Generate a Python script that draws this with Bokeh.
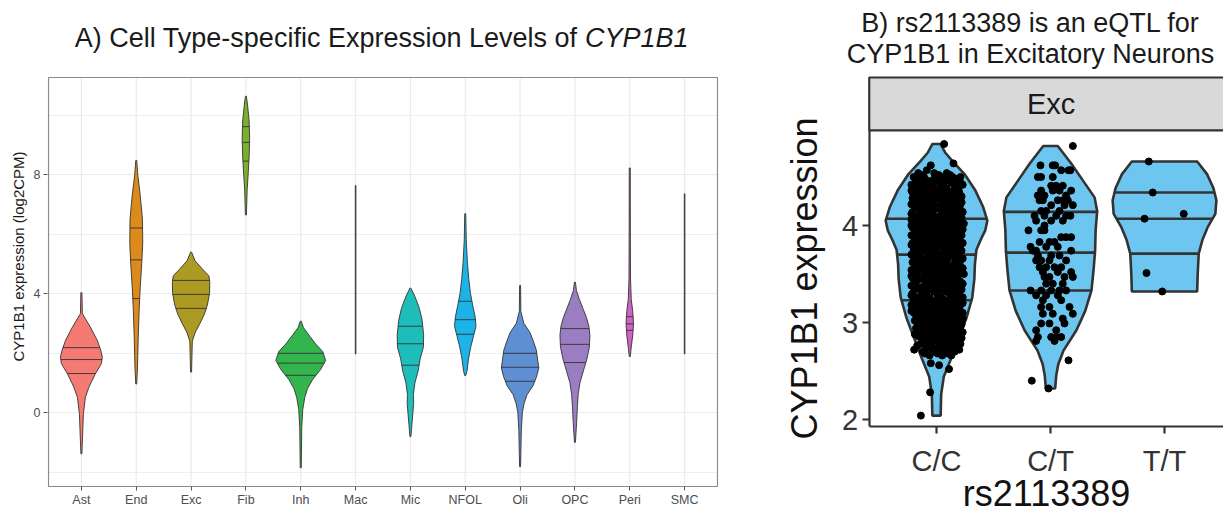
import numpy as np
from bokeh.plotting import figure
from bokeh.models import Range1d, FixedTicker
from bokeh.layouts import row
from bokeh.core.properties import value
from bokeh.embed import file_html
from bokeh.resources import INLINE

FONT = "Liberation Sans"

# ---------------- Panel A: expression by cell type ----------------
cell_types = ["Ast", "End", "Exc", "Fib", "Inh", "Mac", "Mic", "NFOL", "Oli", "OPC", "Peri", "SMC"]
cell_colors = ["#F47A72", "#DC8A1C", "#AD9A22", "#7BAF2C", "#33B44C", "#1FBE98",
               "#1FBDBA", "#1CB4E8", "#5E8FD2", "#9B7DC2", "#D062C4", "#F064A8"]

# density outline per cell type: (log2CPM, relative half-width), top to bottom
AST = [(4.03, 0.02), (3.32, 0.04), (2.87, 0.36), (2.42, 0.64), (2.08, 0.78), (1.86, 0.84),
       (1.64, 0.80), (1.30, 0.56), (0.85, 0.30), (0.51, 0.16), (-0.04, 0.08), (-1.39, 0.02)]
END = [(8.47, 0.02), (8.0, 0.06), (7.3, 0.16), (6.5, 0.25), (5.7, 0.26), (5.0, 0.22),
       (4.2, 0.16), (3.5, 0.12), (2.5, 0.08), (1.5, 0.05), (0.96, 0.02)]
EXC = [(5.39, 0.02), (5.1, 0.16), (4.8, 0.48), (4.6, 0.71), (4.4, 0.75), (4.0, 0.74),
       (3.6, 0.65), (3.3, 0.53), (3.0, 0.36), (2.7, 0.17), (2.4, 0.05), (1.36, 0.02)]
FIB = [(10.63, 0.02), (10.3, 0.07), (9.8, 0.13), (9.2, 0.15), (8.6, 0.13), (8.0, 0.09),
       (7.5, 0.05), (6.64, 0.02)]
INH = [(3.07, 0.02), (2.85, 0.11), (2.6, 0.33), (2.3, 0.60), (2.05, 0.88), (1.75, 1.00),
       (1.45, 0.80), (1.1, 0.47), (0.8, 0.27), (0.5, 0.16), (0.1, 0.08), (-0.5, 0.04), (-1.86, 0.02)]
MAC = [(7.63, 0.012), (1.97, 0.012)]
MIC = [(4.18, 0.02), (3.9, 0.18), (3.5, 0.36), (3.1, 0.47), (2.6, 0.53), (2.2, 0.52),
       (1.8, 0.39), (1.4, 0.31), (1.0, 0.18), (0.6, 0.12), (0.3, 0.13), (0.0, 0.10),
       (-0.4, 0.06), (-0.81, 0.02)]
NFOL = [(6.68, 0.02), (5.8, 0.04), (5.0, 0.09), (4.5, 0.14), (4.0, 0.21), (3.6, 0.30),
        (3.2, 0.40), (2.9, 0.43), (2.6, 0.34), (2.2, 0.22), (1.8, 0.13), (1.4, 0.07), (1.24, 0.02)]
OLI = [(4.27, 0.02), (3.4, 0.03), (3.0, 0.15), (2.7, 0.39), (2.4, 0.53), (2.1, 0.65),
       (1.8, 0.70), (1.5, 0.75), (1.2, 0.66), (0.9, 0.52), (0.6, 0.28), (0.3, 0.16),
       (0.0, 0.09), (-0.6, 0.05), (-1.82, 0.02)]
OPC = [(4.38, 0.02), (4.1, 0.06), (3.8, 0.18), (3.5, 0.32), (3.2, 0.46), (2.9, 0.56),
       (2.6, 0.60), (2.2, 0.58), (1.8, 0.48), (1.4, 0.34), (1.0, 0.20), (0.6, 0.13),
       (0.2, 0.10), (-0.3, 0.07), (-1.0, 0.02)]
PERI = [(8.22, 0.02), (6.0, 0.024), (4.5, 0.03), (3.8, 0.06), (3.4, 0.12), (3.0, 0.15),
        (2.6, 0.12), (2.2, 0.06), (1.88, 0.02)]
SMC = [(7.35, 0.012), (1.97, 0.012)]

# quartiles (75th, median, 25th)
AST_Q = [2.18, 1.78, 1.31]
END_Q = [6.20, 5.13, 3.83]
EXC_Q = [4.44, 3.97, 3.50]
FIB_Q = [9.61, 9.08, 8.45]
INH_Q = [1.99, 1.66, 1.25]
MAC_Q = []
MIC_Q = [2.90, 2.31, 1.59]
NFOL_Q = [3.74, 3.12, 2.63]
OLI_Q = [1.99, 1.52, 1.05]
OPC_Q = [2.82, 2.29, 1.68]
PERI_Q = [3.22, 2.98, 2.76]
SMC_Q = []

profiles_a = [AST, END, EXC, FIB, INH, MAC, MIC, NFOL, OLI, OPC, PERI, SMC]
quartiles_a = [AST_Q, END_Q, EXC_Q, FIB_Q, INH_Q, MAC_Q, MIC_Q, NFOL_Q, OLI_Q, OPC_Q, PERI_Q, SMC_Q]
a_major_ticks = [0, 4, 8]
a_minor_ticks = [-2, 2, 6, 10]
a_panel_y = (-2.487, 11.26)   # visible value span of the panel
a_panel_x = (0.4, 12.6)

# ---------------- Panel B: eQTL in excitatory neurons ----------------
genotypes = ["C/C", "C/T", "T/T"]
CC = [(4.84, 0.08), (4.75, 0.17), (4.65, 0.33), (4.53, 0.54), (4.36, 0.75), (4.19, 0.90),
      (4.05, 0.98), (3.95, 0.94), (3.85, 0.85), (3.75, 0.77), (3.60, 0.74), (3.45, 0.73),
      (3.26, 0.69), (3.05, 0.58), (2.85, 0.44), (2.64, 0.29), (2.44, 0.14), (2.26, 0.09), (2.04, 0.08)]
CT = [(4.82, 0.14), (4.64, 0.40), (4.46, 0.63), (4.29, 0.85), (4.15, 0.90), (3.95, 0.87),
      (3.74, 0.86), (3.54, 0.83), (3.33, 0.79), (3.12, 0.67), (2.92, 0.50), (2.71, 0.25),
      (2.57, 0.15), (2.45, 0.11), (2.32, 0.09)]
TT = [(4.66, 0.63), (4.53, 0.82), (4.39, 0.94), (4.26, 1.00), (4.12, 0.98), (3.98, 0.83),
      (3.85, 0.73), (3.71, 0.66), (3.50, 0.64), (3.32, 0.63)]
CC_Q = [4.07, 3.70, 3.23]
CT_Q = [4.14, 3.72, 3.33]
TT_Q = [4.34, 4.07, 3.71]
b_ticks = [2, 3, 4]
b_panel_y = (1.928, 4.98)
b_panel_x = (0.41, 3.6)

# individual donors: (expression, [horizontal jitter offsets])
cc_rows = [
    (4.84, [0.067]), (4.64, [0.149]), (4.62, [-0.05]), (4.57, [-0.085]),
    (4.54, [-0.16, -0.02, 0.09]), (4.52, [-0.13, 0.02, 0.12]),
    (4.50, [-0.20, -0.11, 0.04, 0.14, 0.21]), (4.48, [-0.15, -0.02, 0.08, 0.17]),
    (4.46, [-0.18, -0.07, 0.01, 0.11, 0.19]), (4.44, [-0.11, 0.03, 0.13, 0.21]),
    (4.42, [-0.22, -0.13, -0.04, 0.06, 0.16, 0.23]), (4.40, [-0.16, -0.06, 0.04, 0.20]),
    (4.38, [-0.19, -0.10, 0.00, 0.09, 0.18]), (4.36, [-0.22, -0.02, 0.07, 0.15]),
    (4.34, [-0.21, -0.15, -0.06, 0.03, 0.12, 0.20]), (4.32, [-0.12, -0.01, 0.09, 0.17]),
    (4.30, [-0.17, -0.08, 0.05, 0.14, 0.22]), (4.28, [-0.21, -0.04, 0.02, 0.11, 0.19]),
    (4.26, [-0.20, -0.12, -0.02, 0.08, 0.17]), (4.24, [-0.16, -0.08, 0.14, 0.22]),
    (4.22, [-0.22, -0.14, -0.05, 0.04, 0.12, 0.21]), (4.20, [-0.19, -0.01, 0.07, 0.16]),
    (4.18, [-0.18, -0.09, 0.01, 0.10, 0.19]), (4.16, [-0.14, -0.05, 0.04, 0.13, 0.21]),
    (4.14, [-0.21, -0.12, -0.03, 0.07, 0.15, 0.23]), (4.12, [-0.22, -0.10, 0.09, 0.17]),
    (4.10, [-0.16, -0.07, 0.03, 0.13, 0.20]), (4.08, [-0.18, -0.02, 0.10, 0.22]),
    (4.06, [-0.22, -0.13, -0.04, 0.06, 0.17]), (4.04, [-0.15, -0.07, 0.03, 0.14]),
    (4.02, [-0.19, -0.10, 0.00, 0.09, 0.19, 0.24]), (4.00, [-0.22, -0.04, 0.06, 0.16]),
    (3.98, [-0.21, -0.14, -0.05, 0.04, 0.13, 0.21]), (3.96, [-0.11, 0.00, 0.09, 0.23]),
    (3.94, [-0.17, -0.08, 0.02, 0.11, 0.18]), (3.92, [-0.19, -0.05, 0.05, 0.14, 0.20]),
    (3.90, [-0.22, -0.12, -0.02, 0.07, 0.16, 0.22]), (3.88, [-0.15, -0.07, 0.04, 0.12]),
    (3.86, [-0.19, -0.10, 0.01, 0.10, 0.20]), (3.84, [-0.17, -0.01, 0.08, 0.18]),
    (3.82, [-0.21, -0.14, -0.05, 0.05, 0.14, 0.23]), (3.80, [-0.22, -0.11, 0.00, 0.09, 0.21]),
    (3.78, [-0.17, -0.08, 0.03, 0.12, 0.19]), (3.76, [-0.14, -0.04, 0.06, 0.15]),
    (3.74, [-0.20, -0.11, -0.01, 0.08, 0.17, 0.22]), (3.72, [-0.17, -0.08, 0.11, 0.19]),
    (3.70, [-0.22, -0.15, -0.06, 0.04, 0.14]), (3.68, [-0.20, -0.03, 0.07, 0.16]),
    (3.66, [-0.18, -0.09, 0.00, 0.10, 0.19, 0.23]), (3.64, [-0.14, -0.06, 0.03, 0.21]),
    (3.62, [-0.21, -0.12, -0.03, 0.06, 0.16]), (3.60, [-0.19, -0.09, 0.09, 0.18]),
    (3.58, [-0.17, -0.07, 0.02, 0.12, 0.21]), (3.56, [-0.12, -0.02, 0.07, 0.15, 0.23]),
    (3.54, [-0.22, -0.13, -0.04, 0.08, 0.18]), (3.52, [-0.17, -0.07, 0.03, 0.13]),
    (3.50, [-0.19, -0.10, 0.01, 0.10, 0.20, 0.24]), (3.48, [-0.22, -0.04, 0.06, 0.16]),
    (3.46, [-0.21, -0.14, -0.05, 0.05, 0.14]), (3.44, [-0.16, -0.10, 0.00, 0.09, 0.19]),
    (3.42, [-0.18, -0.08, 0.03, 0.12, 0.21]), (3.40, [-0.20, -0.05, 0.06, 0.15, 0.23]),
    (3.38, [-0.22, -0.11, -0.01, 0.08, 0.17]), (3.36, [-0.16, -0.07, 0.03, 0.12, 0.20]),
    (3.34, [-0.19, -0.14, -0.04, 0.06, 0.15, 0.22]), (3.32, [-0.13, -0.02, 0.08, 0.17]),
    (3.30, [-0.21, -0.09, 0.01, 0.11, 0.19]), (3.28, [-0.22, -0.11, 0.01, 0.15, 0.20]),
    (3.26, [-0.17, -0.06, 0.04, 0.13, 0.23]), (3.24, [-0.15, -0.06, 0.06, 0.12]),
    (3.22, [-0.20, -0.12, -0.02, 0.09, 0.18]), (3.20, [-0.18, -0.08, 0.02, 0.15, 0.23]),
    (3.18, [-0.22, -0.15, -0.05, 0.05, 0.15, 0.21]), (3.16, [-0.12, -0.01, 0.09, 0.18]),
    (3.14, [-0.18, -0.08, 0.02, 0.12, 0.20]), (3.12, [-0.22, -0.13, -0.04, 0.06, 0.16]),
    (3.10, [-0.20, -0.11, -0.01, 0.08, 0.17, 0.23]), (3.08, [-0.18, -0.09, 0.01, 0.11, 0.19]),
    (3.06, [-0.16, -0.06, 0.04, 0.14, 0.21]), (3.04, [-0.13, -0.03, 0.07, 0.17, 0.23]),
    (3.02, [-0.19, -0.10, 0.00, 0.10, 0.19]), (3.00, [-0.17, -0.06, 0.04, 0.13, 0.21]),
    (2.98, [-0.15, -0.04, 0.06, 0.15, 0.22]), (2.96, [-0.11, -0.01, 0.09, 0.18]),
    (2.94, [-0.18, -0.08, 0.02, 0.12, 0.19]), (2.92, [-0.15, -0.06, 0.05, 0.14, 0.21]),
    (2.90, [-0.13, -0.03, 0.08, 0.17, 0.23]), (2.88, [-0.19, -0.08, 0.01, 0.11, 0.19]),
    (2.86, [-0.16, -0.06, 0.04, 0.14, 0.20]), (2.84, [-0.13, -0.03, 0.07, 0.15, 0.22]),
    (2.82, [-0.11, -0.01, 0.09, 0.17]), (2.80, [-0.08, 0.03, 0.12, 0.19]),
    (2.78, [-0.14, -0.04, 0.06, 0.15, 0.21]), (2.76, [-0.17, -0.06, 0.04, 0.13]),
    (2.74, [-0.09, 0.01, 0.11, 0.18]), (2.72, [-0.196, -0.04, 0.06, 0.15, 0.20]),
    (2.70, [-0.12, -0.02, 0.08, 0.16]), (2.68, [-0.10, 0.01, 0.10]),
    (2.66, [-0.06, 0.05, 0.13]),
    (2.58, [-0.05]), (2.56, [0.023]), (2.52, [0.11]),
    (2.28, [-0.056]), (2.04, [-0.137]),
]
ct_rows = [
    (4.82, [0.196]),
    (4.62, [-0.088, 0.020, 0.041]),
    (4.57, [0.094, 0.158, 0.175]),
    (4.50, [-0.111, -0.082, 0.020]),
    (4.41, [0.006, 0.050, 0.108]),
    (4.36, [-0.082, 0.020, 0.079, 0.181]),
    (4.31, [-0.111, -0.053, 0.137]),
    (4.26, [-0.096, -0.067, 0.064, 0.108, 0.152]),
    (4.21, [0.006, 0.123, 0.196]),
    (4.15, [-0.082, -0.038, 0.079]),
    (4.10, [-0.140, -0.053, 0.050, 0.137, 0.175]),
    (4.05, [-0.126, 0.006, 0.108]),
    (4.00, [-0.053]),
    (3.95, [-0.193, -0.082, -0.053]),
    (3.88, [0.094, 0.137, 0.181]),
    (3.83, [-0.096, -0.009, 0.035]),
    (3.78, [-0.175, -0.038, 0.064]),
    (3.74, [-0.155, -0.126, 0.181]),
    (3.69, [-0.111, 0.006, 0.079]),
    (3.64, [-0.126, -0.082, -0.009, 0.137]),
    (3.57, [-0.096, -0.038, 0.035, 0.094]),
    (3.52, [-0.067, 0.064, 0.181]),
    (3.47, [-0.053, -0.009, 0.123, 0.196]),
    (3.40, [-0.038, 0.020, 0.108]),
    (3.33, [-0.175, -0.082, 0.006, 0.079, 0.137]),
    (3.28, [-0.126, -0.038, 0.064]),
    (3.23, [-0.067, 0.094]),
    (3.16, [-0.082, -0.009, 0.167]),
    (3.09, [-0.067, 0.020, 0.196]),
    (3.04, [0.108]),
    (2.99, [-0.082, -0.009, 0.123]),
    (2.92, [-0.126, 0.050]),
    (2.85, [-0.111, 0.006, 0.050, 0.094]),
    (2.81, [-0.126, 0.035]),
    (2.61, [0.158]),
    (2.40, [-0.164]),
    (2.32, [-0.018]),
]
tt_dx = [-0.138, -0.103, -0.175, 0.169, -0.158, -0.020]
tt_y = [4.66, 4.34, 4.07, 4.12, 3.51, 3.32]

profiles_b = [CC, CT, TT]
quartiles_b = [CC_Q, CT_Q, TT_Q]


def violin_outline(center, prof, scale):
    lv = np.array([p[0] for p in prof])
    w = np.array([p[1] for p in prof]) * scale
    xs = list(center + w) + list(center - w[::-1])
    ys = list(lv) + list(lv[::-1])
    return xs, ys


def half_width(prof, q, scale):
    lv = np.array([p[0] for p in prof])[::-1]
    w = np.array([p[1] for p in prof])[::-1] * scale
    return float(np.interp(q, lv, w))


def style_blank(p):
    p.title.visible = False
    p.background_fill_color = "white"
    p.border_fill_color = "white"
    p.outline_line_color = None


# ---------------- figure A ----------------
A_W, A_H = 770, 512
A_LEFT, A_RIGHT = 47, 52
A_SX = 669 / 12.2          # px per category step
A_SY = 29.75               # px per log2CPM unit
A_ZERO_PX = 412            # vertical position of 0 from top of canvas
xa = Range1d(a_panel_x[0] - 1 / A_SX, a_panel_x[1] + 1 / A_SX)
ya = Range1d((A_ZERO_PX - A_H) / A_SY, A_ZERO_PX / A_SY)
pA = figure(width=A_W, height=A_H, x_range=xa, y_range=ya, output_backend="svg",
            toolbar_location=None, min_border=0, min_border_left=A_LEFT,
            min_border_right=A_RIGHT, min_border_top=0, min_border_bottom=0)
style_blank(pA)


def ax_px(px):
    return xa.start + (px - A_LEFT) / A_SX


def ay_px(py):
    return ya.end - py / A_SY


# vertical grid lines, limited to the panel
ncat = len(cell_types)
pA.segment(x0=list(range(1, ncat + 1)), x1=list(range(1, ncat + 1)),
           y0=[a_panel_y[0]] * ncat, y1=[a_panel_y[1]] * ncat,
           line_color="#EBEBEB", line_width=1.2)

SCALE_A = 0.455
vx, vy, qx0, qx1, qy = [], [], [], [], []
for i, (prof, qs) in enumerate(zip(profiles_a, quartiles_a)):
    c = i + 1
    xs, ys = violin_outline(c, prof, SCALE_A)
    vx.append(xs)
    vy.append(ys)
    for q in qs:
        h = half_width(prof, q, SCALE_A)
        qx0.append(c - h)
        qx1.append(c + h)
        qy.append(q)

pA.patches(vx, vy, fill_color=cell_colors, line_color="#333333", line_width=0.9)
pA.segment(x0=qx0, y0=qy, x1=qx1, y1=qy, line_color="#333333", line_width=0.9)

# panel border
pA.quad(left=[a_panel_x[0]], right=[a_panel_x[1]], bottom=[a_panel_y[0]], top=[a_panel_y[1]],
        fill_color=None, line_color="#8A8A8A", line_width=1.2)

pA.xaxis.ticker = FixedTicker(ticks=list(range(1, ncat + 1)))
pA.xaxis.major_label_overrides = {i + 1: n for i, n in enumerate(cell_types)}
pA.xaxis.fixed_location = a_panel_y[0]
pA.yaxis.ticker = FixedTicker(ticks=a_major_ticks, minor_ticks=a_minor_ticks)
pA.yaxis.bounds = a_panel_y
for ax in pA.axis:
    ax.axis_line_color = None
    ax.major_tick_line_color = "#555555"
    ax.major_tick_out = 4
    ax.major_tick_in = 0
    ax.minor_tick_line_color = None
    ax.major_label_text_font = FONT
    ax.major_label_text_font_size = "12.5px"
    ax.major_label_text_color = "#4D4D4D"
    ax.major_label_standoff = 3
pA.yaxis.axis_label = "CYP1B1 expression (log2CPM)"
pA.yaxis.axis_label_text_font = FONT
pA.yaxis.axis_label_text_font_size = "15px"
pA.yaxis.axis_label_text_font_style = "normal"
pA.yaxis.axis_label_text_color = "#1A1A1A"
pA.yaxis.axis_label_standoff = 4

pA.xgrid.visible = False
pA.ygrid.grid_line_color = "#EBEBEB"
pA.ygrid.grid_line_width = 1.2
pA.ygrid.minor_grid_line_color = "#EFEFEF"
pA.ygrid.minor_grid_line_width = 1.0

title_y = ay_px(37)
pA.text(x=[ax_px(577)], y=[title_y], text=["A) Cell Type-specific Expression Levels of"],
        text_font=value(FONT), text_font_size="27px", text_align="right",
        text_baseline="middle", text_color="#1A1A1A")
pA.text(x=[ax_px(584.5)], y=[title_y], text=["CYP1B1"],
        text_font=value(FONT), text_font_size="27px", text_font_style="italic",
        text_align="left", text_baseline="middle", text_color="#1A1A1A")

# ---------------- figure B ----------------
B_W, B_H = 453, 512
B_SX = 114.0               # px per genotype step
B_SY = 97.0                # px per expression unit
B_FIRST_PX = 166           # horizontal position of the first genotype
B_FOUR_PX = 225            # vertical position of 4 from top of canvas
xb = Range1d(1 - B_FIRST_PX / B_SX, 1 + (B_W - B_FIRST_PX) / B_SX)
yb = Range1d(4 - (B_H - B_FOUR_PX) / B_SY, 4 + B_FOUR_PX / B_SY)
pB = figure(width=B_W, height=B_H, x_range=xb, y_range=yb, output_backend="svg",
            toolbar_location=None, min_border=0, min_border_left=0, min_border_right=0,
            min_border_top=0, min_border_bottom=0)
style_blank(pB)
pB.grid.visible = False


def bx_px(px):
    return xb.start + px / B_SX


def by_px(py):
    return yb.end - py / B_SY


# facet strip above the panel
strip_top = by_px(77)
strip_bottom = b_panel_y[1]
pB.quad(left=[b_panel_x[0]], right=[xb.end + 1], bottom=[strip_bottom], top=[strip_top],
        fill_color="#D9D9D9", line_color="#333333", line_width=2.2)
pB.text(x=[(b_panel_x[0] + b_panel_x[1]) / 2], y=[(strip_top + strip_bottom) / 2], text=["Exc"],
        text_font=value(FONT), text_font_size="29px", text_align="center",
        text_baseline="middle", text_color="#1A1A1A")

SCALE_B = 0.455
bx, by, bqx0, bqx1, bqy = [], [], [], [], []
for i, (prof, qs) in enumerate(zip(profiles_b, quartiles_b)):
    c = i + 1
    xs, ys = violin_outline(c, prof, SCALE_B)
    bx.append(xs)
    by.append(ys)
    for q in qs:
        h = half_width(prof, q, SCALE_B)
        bqx0.append(c - h)
        bqx1.append(c + h)
        bqy.append(q)
pB.patches(bx, by, fill_color="#6CC6F0", line_color="#333333", line_width=2.6)
pB.segment(x0=bqx0, y0=bqy, x1=bqx1, y1=bqy, line_color="#333333", line_width=2.6)

pts_x, pts_y = [], []
for g, rows in ((1, cc_rows), (2, ct_rows)):
    for yv, dxs in rows:
        for d in dxs:
            pts_x.append(g + d)
            pts_y.append(yv)
for d, yv in zip(tt_dx, tt_y):
    pts_x.append(3 + d)
    pts_y.append(yv)
pB.scatter(pts_x, pts_y, size=7, fill_color="black", line_color="black")

pB.xaxis.ticker = FixedTicker(ticks=[1, 2, 3])
pB.xaxis.major_label_overrides = {i + 1: g for i, g in enumerate(genotypes)}
pB.xaxis.fixed_location = b_panel_y[0]
pB.xaxis.bounds = b_panel_x
pB.yaxis.ticker = FixedTicker(ticks=b_ticks)
pB.yaxis.fixed_location = b_panel_x[0]
pB.yaxis.bounds = b_panel_y
for ax in pB.axis:
    ax.axis_line_color = "#333333"
    ax.axis_line_width = 2.2
    ax.major_tick_line_color = "#333333"
    ax.major_tick_line_width = 2.2
    ax.major_tick_out = 7
    ax.major_tick_in = 0
    ax.minor_tick_line_color = None
    ax.major_label_text_font = FONT
    ax.major_label_text_font_size = "29px"
    ax.major_label_text_color = "#333333"
    ax.axis_label_text_font = FONT
    ax.axis_label_text_font_size = "36px"
    ax.axis_label_text_font_style = "normal"
    ax.axis_label_text_color = "#111111"
pB.yaxis.major_label_standoff = 4
pB.xaxis.major_label_standoff = 12
pB.yaxis.axis_label = "CYP1B1 expression"
pB.xaxis.axis_label = "rs2113389"
pB.yaxis.axis_label_standoff = 14
pB.xaxis.axis_label_standoff = -8

tb_x = bx_px(1030 - 770)
pB.text(x=[tb_x, tb_x], y=[by_px(22), by_px(53)],
        text=["B) rs2113389 is an eQTL for", "CYP1B1 in Excitatory Neurons"],
        text_font=value(FONT), text_font_size="27px", text_align="center",
        text_baseline="middle", text_color="#1A1A1A")

layout = row(pA, pB, spacing=0)
open("out.html", "w").write(file_html(layout, INLINE))
